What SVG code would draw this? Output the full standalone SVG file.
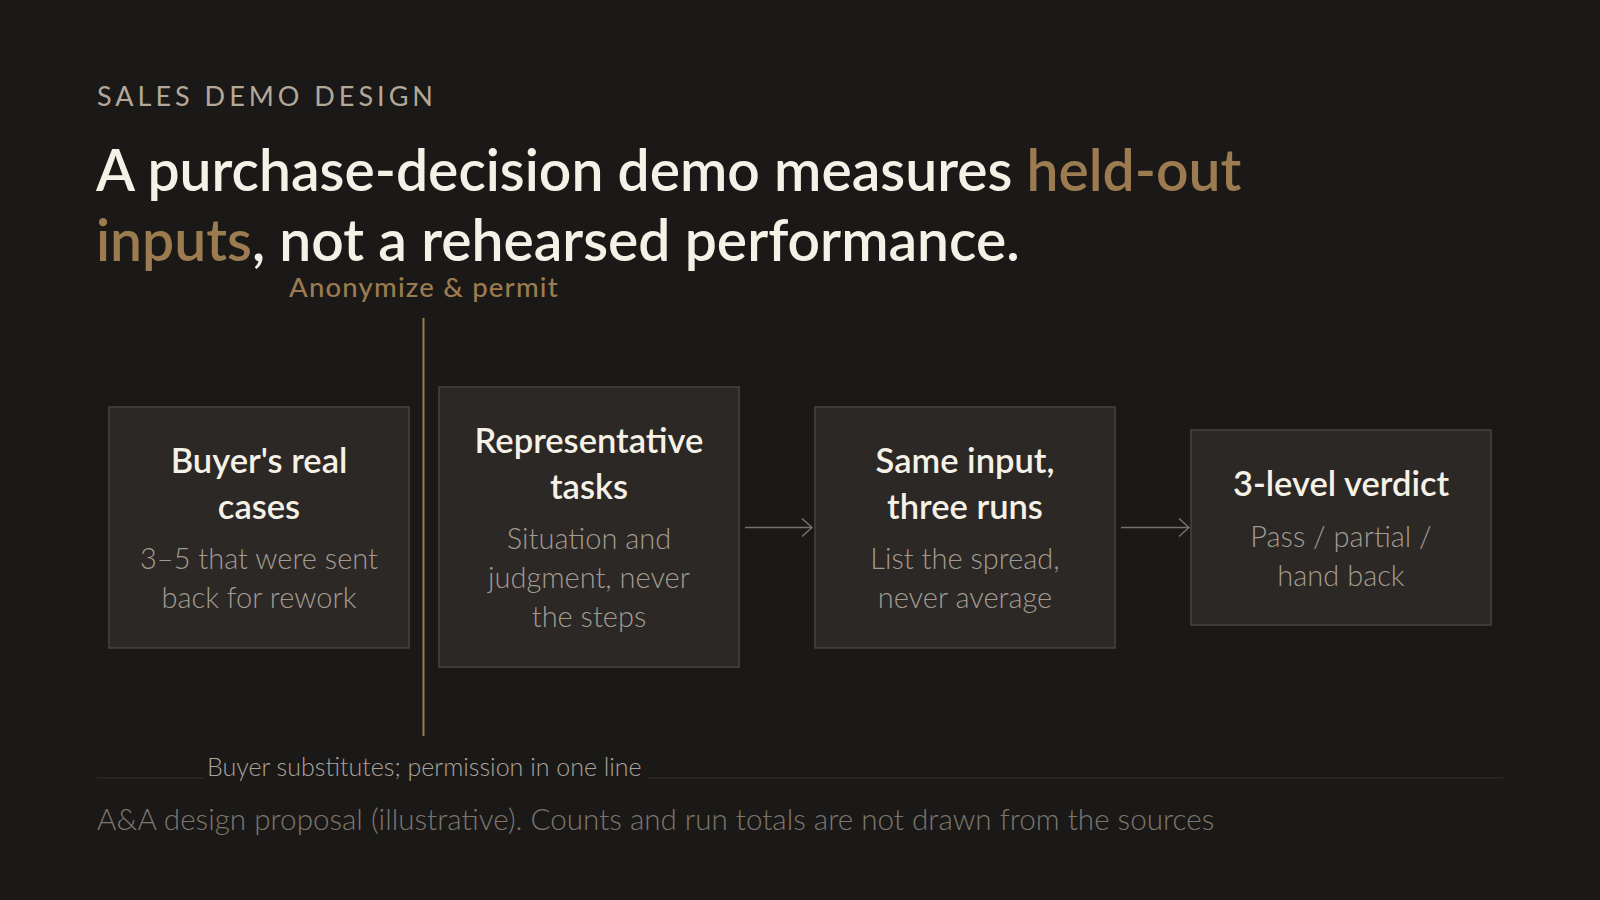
<svg xmlns="http://www.w3.org/2000/svg" width="1600" height="900" viewBox="0 0 1600 900">
<defs>
<style>
.bg{fill:#1b1917}
.kicker{font-family:Lato,"Liberation Sans",sans-serif;font-size:27px;fill:#b3a898;letter-spacing:4px;font-weight:400}
.title{font-family:Lato,"Liberation Sans",sans-serif;font-size:57px;font-weight:600;fill:#f6f1e7}
.gold{fill:#9b7b4f}
.note{font-family:Lato,"Liberation Sans",sans-serif;font-size:27.5px;font-weight:500;fill:#9b7b4f;letter-spacing:1.2px}
.box{fill:#2b2825;stroke:#48433e;stroke-width:1.5}
.bt{font-family:Lato,"Liberation Sans",sans-serif;font-size:34.5px;font-weight:600;fill:#f6f1e7;text-anchor:middle}
.bs{font-family:Lato,"Liberation Sans",sans-serif;font-size:29px;font-weight:300;fill:#a39b92;text-anchor:middle}
.conn{stroke:#77716b;stroke-width:1.5;fill:none}
.small{font-family:Lato,"Liberation Sans",sans-serif;font-size:25px;font-weight:300;fill:#aaa39b}
.foot{font-family:Lato,"Liberation Sans",sans-serif;font-size:29.6px;font-weight:300;fill:#7d766e}
</style>
<marker id="arr" viewBox="0 0 12 20" refX="11" refY="10" markerWidth="12" markerHeight="20" markerUnits="userSpaceOnUse" orient="auto">
<path d="M1,1 L11,10 L1,19" fill="none" stroke="#77716b" stroke-width="1.5"/>
</marker>
</defs>
<rect class="bg" x="0" y="0" width="1600" height="900"/>
<text class="kicker" x="97" y="106">SALES DEMO DESIGN</text>
<text class="title" x="96" y="191">A purchase-decision demo measures <tspan class="gold">held-out</tspan></text>
<text class="title" x="96" y="261"><tspan class="gold">inputs</tspan>, not a rehearsed performance.</text>
<text class="note" x="289" y="297">Anonymize &amp; permit</text>
<g id="connectors">
<line x1="423.5" y1="318" x2="423.5" y2="736" stroke="#9b7b4f" stroke-width="2"/>
<line class="conn" x1="745" y1="527.5" x2="812" y2="527.5" marker-end="url(#arr)"/>
<line class="conn" x1="1121" y1="527.5" x2="1189" y2="527.5" marker-end="url(#arr)"/>
</g>
<g id="node-cases">
<rect class="box" x="109" y="407" width="300" height="241"/>
<text class="bt" x="259" y="473">Buyer's real</text>
<text class="bt" x="259" y="519">cases</text>
<text class="bs" x="259" y="569">3–5 that were sent</text>
<text class="bs" x="259" y="608">back for rework</text>
</g>
<g id="node-tasks">
<rect class="box" x="439" y="387" width="300" height="280"/>
<text class="bt" x="589" y="453">Representative</text>
<text class="bt" x="589" y="499">tasks</text>
<text class="bs" x="589" y="549">Situation and</text>
<text class="bs" x="589" y="588">judgment, never</text>
<text class="bs" x="589" y="627">the steps</text>
</g>
<g id="node-runs">
<rect class="box" x="815" y="407" width="300" height="241"/>
<text class="bt" x="965" y="473">Same input,</text>
<text class="bt" x="965" y="519">three runs</text>
<text class="bs" x="965" y="569">List the spread,</text>
<text class="bs" x="965" y="608">never average</text>
</g>
<g id="node-verdict">
<rect class="box" x="1191" y="430" width="300" height="195"/>
<text class="bt" x="1341" y="496">3-level verdict</text>
<text class="bs" x="1341" y="547">Pass / partial /</text>
<text class="bs" x="1341" y="586">hand back</text>
</g>
<line x1="97" y1="778" x2="1503" y2="778" stroke="#2c2926" stroke-width="1.5"/>
<rect x="205" y="754" width="442" height="25" fill="#1b1917"/>
<text class="small" x="207" y="776">Buyer substitutes; permission in one line</text>
<text class="foot" x="97" y="830">A&amp;A design proposal (illustrative). Counts and run totals are not drawn from the sources</text>
</svg>
